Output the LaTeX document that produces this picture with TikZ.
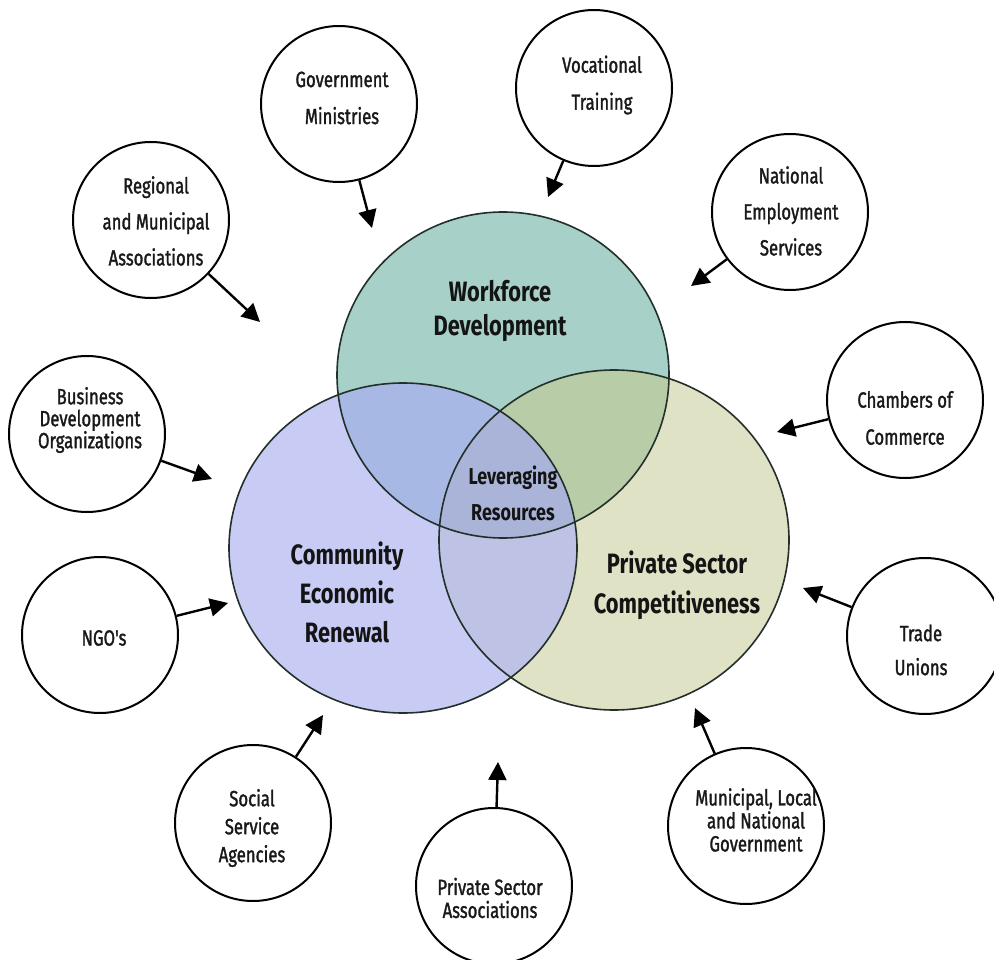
\documentclass[tikz,border=0pt]{standalone}
\usepackage{fontspec}
\setmainfont{Fira Sans}
\newfontfamily\lblfont[FakeStretch=0.76,FakeBold=1.4]{Fira Sans}
\newfontfamily\headfont[FakeStretch=0.78]{Fira Sans}
\usetikzlibrary{arrows.meta,shapes.geometric}

\definecolor{wfcol}{HTML}{A6D0C8}
\definecolor{cecol}{HTML}{C8CCF5}
\definecolor{pscol}{HTML}{E0E2C6}
\definecolor{wccol}{HTML}{A8B8E4}
\definecolor{wpcol}{HTML}{B8CCA8}
\definecolor{cpcol}{HTML}{BEC2E4}
\definecolor{allcol}{HTML}{AAB4D8}
\definecolor{rim}{HTML}{23302A}

\tikzset{
  smallc/.style={circle, draw=black, line width=2pt, minimum size=156pt, inner sep=0pt},
  bigc/.style={ellipse, draw=rim, line width=1.6pt, inner sep=0pt},
  lbl/.style={font=\lblfont\fontsize{22}{#1}\selectfont, align=center, inner sep=0pt, text=black!90},
  head/.style={font=\headfont\bfseries\fontsize{28}{#1}\selectfont, align=center, inner sep=0pt, text=black!92},
  feed/.style={line width=2.4pt, -{Triangle[length=18pt,width=18pt]}, shorten >=0pt},
}

\begin{document}
\begin{tikzpicture}[x=1pt,y=-1pt]
\useasboundingbox (0,0) rectangle (994,960);
\fill[white] (0,0) rectangle (994,960);

% region fills of the three-way overlap
\def\pathW{(503,375) ellipse [x radius=166pt, y radius=163pt]}
\def\pathC{(403,548) ellipse [x radius=174pt, y radius=165pt]}
\def\pathP{(614,540) ellipse [x radius=175pt, y radius=170pt]}
\fill[wfcol] \pathW;
\fill[cecol] \pathC;
\fill[pscol] \pathP;
\begin{scope}\clip \pathW; \fill[wccol] \pathC; \end{scope}
\begin{scope}\clip \pathW; \fill[wpcol] \pathP; \end{scope}
\begin{scope}\clip \pathC; \fill[cpcol] \pathP; \end{scope}
\begin{scope}\clip \pathW; \clip \pathC; \fill[allcol] \pathP; \end{scope}

% outlines of the three focus areas
\node[bigc, minimum width=332pt, minimum height=326pt] (wf) at (503,375) {};
\node[bigc, minimum width=348pt, minimum height=330pt] (ce) at (403,548) {};
\node[bigc, minimum width=350pt, minimum height=340pt] (ps) at (614,540) {};

\node[head=34] (wf-t) at (500,311) {Workforce\\Development};
\node[head=39] (ce-t) at (347,592) {Community\\Economic\\Renewal};
\node[head=40] (ps-t) at (677,585) {Private Sector\\Competitiveness};
\node[font=\headfont\bfseries\fontsize{23}{36}\selectfont, align=center, inner sep=0pt, text=black!92] (lev) at (513,493) {Leveraging\\Resources};

% partner organisations
\node[smallc] (gov) at (339,104) {};
\node[smallc] (reg) at (151,220) {};
\node[smallc] (voc) at (594,88) {};
\node[smallc] (nat) at (790,212) {};
\node[smallc] (bus) at (87,434) {};
\node[smallc] (ngo) at (100,635) {};
\node[smallc] (cha) at (905,400) {};
\node[smallc] (tra) at (925,636) {};
\node[smallc] (soc) at (253,823) {};
\node[smallc] (psa) at (494,886) {};
\node[smallc] (mun) at (746,826) {};

\node[lbl=37] (gov-t) at (342,98) {Government\\Ministries};
\node[lbl=36] (reg-t) at (156,221) {Regional\\and Municipal\\Associations};
\node[lbl=37] (voc-t) at (602,85) {Vocational\\Training};
\node[lbl=36] (nat-t) at (791,211) {National\\Employment\\Services};
\node[lbl=22] (bus-t) at (90,420) {Business\\Development\\Organizations};
\node[lbl=22] (ngo-t) at (104,638) {NGO's};
\node[lbl=37] (cha-t) at (905,418) {Chambers of\\Commerce};
\node[lbl=34] (tra-t) at (921,650) {Trade\\Unions};
\node[lbl=28] (soc-t) at (252,828) {Social\\Service\\Agencies};
\node[lbl=23] (psa-t) at (490,898) {Private Sector\\Associations};
\node[lbl=23] (mun-t) at (756,820) {Municipal, Local\\and National\\Government};

% arrow ends
\coordinate (gov-e) at (372,228);
\coordinate (reg-e) at (260,322);
\coordinate (voc-e) at (548,197);
\coordinate (nat-e) at (691,286);
\coordinate (bus-e) at (212,479);
\coordinate (ngo-e) at (228,603);
\coordinate (cha-e) at (777,432);
\coordinate (tra-e) at (803,588);
\coordinate (soc-e) at (323,715);
\coordinate (psa-e) at (498,762);
\coordinate (mun-e) at (695,708);

\foreach \n in {gov,reg,voc,nat,bus,ngo,cha,tra,soc,psa,mun}
  \draw[feed] (\n) -- (\n-e);
\end{tikzpicture}
\end{document}
